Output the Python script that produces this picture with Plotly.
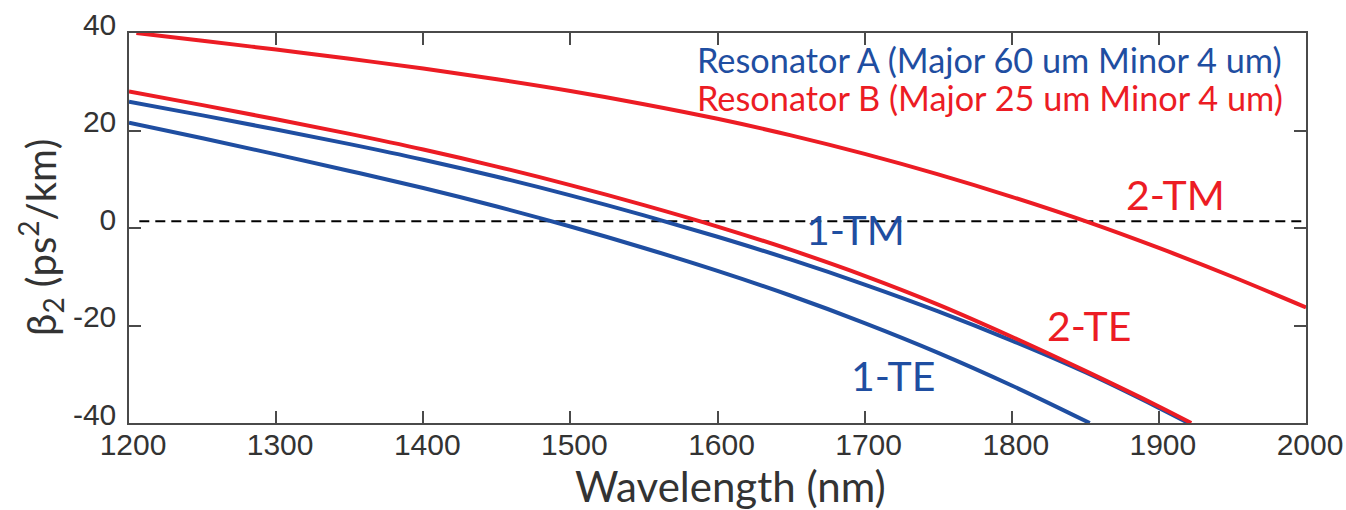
import plotly.graph_objects as go

# ---- data ----
wl_2tm = [1205, 1250, 1300, 1350, 1400, 1450, 1500, 1550, 1600, 1650, 1700, 1750, 1800, 1850, 1900, 1950, 2000]
b2_2tm = [40.0, 38.4, 36.6, 34.7, 32.7, 30.5, 28.1, 25.4, 22.4, 19.0, 15.2, 11.0, 6.4, 1.4, -4.1, -10.0, -16.3]

wl_2te = [1200, 1250, 1300, 1350, 1400, 1450, 1500, 1550, 1600, 1650, 1700, 1750, 1800, 1850, 1900, 1922]
b2_2te = [28.0, 25.2, 22.3, 19.3, 16.1, 12.6, 8.8, 4.7, 0.3, -4.5, -9.8, -15.7, -22.3, -29.3, -36.6, -40.0]

wl_1tm = [1200, 1250, 1300, 1350, 1400, 1450, 1500, 1550, 1600, 1650, 1700, 1750, 1800, 1850, 1900, 1920]
b2_1tm = [25.9, 23.1, 20.2, 17.2, 14.0, 10.5, 6.7, 2.6, -1.8, -6.5, -11.6, -17.1, -23.1, -29.6, -36.9, -40.0]

wl_1te = [1200, 1250, 1300, 1350, 1400, 1450, 1500, 1550, 1600, 1650, 1700, 1750, 1800, 1853]
b2_1te = [21.6, 18.4, 15.1, 11.7, 8.2, 4.4, 0.3, -4.1, -8.8, -13.9, -19.5, -25.6, -32.3, -40.0]

dash_wl = [1207, 2000]
dash_b2 = [1.4, 1.4]

x_ticks = [1200, 1300, 1400, 1500, 1600, 1700, 1800, 1900, 2000]
y_ticks = [-40, -20, 0, 20, 40]
y_ticktext = ["-40", "-20", "0", "20", "40"]

curve_labels = ["2-TM", "1-TM", "2-TE", "1-TE"]
label_wl = [1911.6, 1694, 1852.5, 1719]
label_b2 = [6.8, -0.3, -19.9, -30.2]

legend_lines = ["Resonator A (Major 60 um Minor 4 um)", "Resonator B (Major 25 um Minor 4 um)"]
legend_b2 = [34.5, 26.8]
legend_colors = ["#1f4ea1", "#ec1c24"]

RED = "#ec1c24"
BLUE = "#1f4ea1"
AXC = "#4a4a4a"
TXT = "#333333"
CAL = "Lato, 'Open Sans', sans-serif"
ARI = "'Liberation Sans', Arial, sans-serif"

fig = go.Figure()
fig.add_trace(go.Scatter(x=dash_wl, y=dash_b2, mode="lines",
                         line=dict(color="black", width=2, dash="10px,6px"), hoverinfo="skip"))
fig.add_trace(go.Scatter(x=wl_2tm, y=b2_2tm, mode="lines", line=dict(color=RED, width=4, shape="spline")))
fig.add_trace(go.Scatter(x=wl_1te, y=b2_1te, mode="lines", line=dict(color=BLUE, width=4, shape="spline")))
fig.add_trace(go.Scatter(x=wl_1tm, y=b2_1tm, mode="lines", line=dict(color=BLUE, width=4, shape="spline")))
fig.add_trace(go.Scatter(x=wl_2te, y=b2_2te, mode="lines", line=dict(color=RED, width=4, shape="spline")))

label_colors = [RED, BLUE, RED, BLUE]
for t, xv, yv, c in zip(curve_labels, label_wl, label_b2, label_colors):
    fig.add_annotation(x=xv, y=yv, text=t, showarrow=False, xanchor="center", yanchor="middle",
                       font=dict(family=CAL, size=41, color=c))

for t, yv, c in zip(legend_lines, legend_b2, legend_colors):
    fig.add_annotation(x=1785, y=yv, text=t, showarrow=False, xanchor="center", yanchor="middle",
                       font=dict(family=CAL, size=34.3, color=c))

# axis titles
fig.add_annotation(x=1608.5, xref="x", y=-0.1605, yref="paper", text="Wavelength (nm)", showarrow=False,
                   xanchor="center", yanchor="middle", font=dict(family=CAL, size=42, color=TXT))
fig.add_annotation(x=-0.0748, xref="paper", y=0.477, yref="paper",
                   text="β<sub>2</sub> (ps<sup>2</sup>/km)", showarrow=False, textangle=-90,
                   xanchor="center", yanchor="middle", font=dict(family=CAL, size=40, color=TXT))

fig.update_layout(
    width=1346, height=510,
    margin=dict(l=129, r=40, t=33, b=87),
    paper_bgcolor="white", plot_bgcolor="white",
    showlegend=False,
    xaxis=dict(range=[1200, 2000], tickvals=x_ticks, ticks="inside", ticklen=12, tickwidth=1.5,
               tickcolor=AXC, showline=True, linecolor=AXC, linewidth=1.5, mirror="ticks",
               showgrid=False, zeroline=False, tickfont=dict(family=ARI, size=30, color=TXT),
               ticklabelstandoff=-6, ticklabelshift=4, automargin=False),
    yaxis=dict(range=[-40, 40], tickvals=y_ticks, ticktext=y_ticktext, ticks="inside", ticklen=12,
               tickwidth=1.5, tickcolor=AXC, showline=True, linecolor=AXC, linewidth=1.5, mirror="ticks",
               showgrid=False, zeroline=False, tickfont=dict(family=ARI, size=30, color=TXT),
               ticklabelstandoff=5, ticklabelshift=-9, automargin=False),
)

fig.write_html("out.html")
